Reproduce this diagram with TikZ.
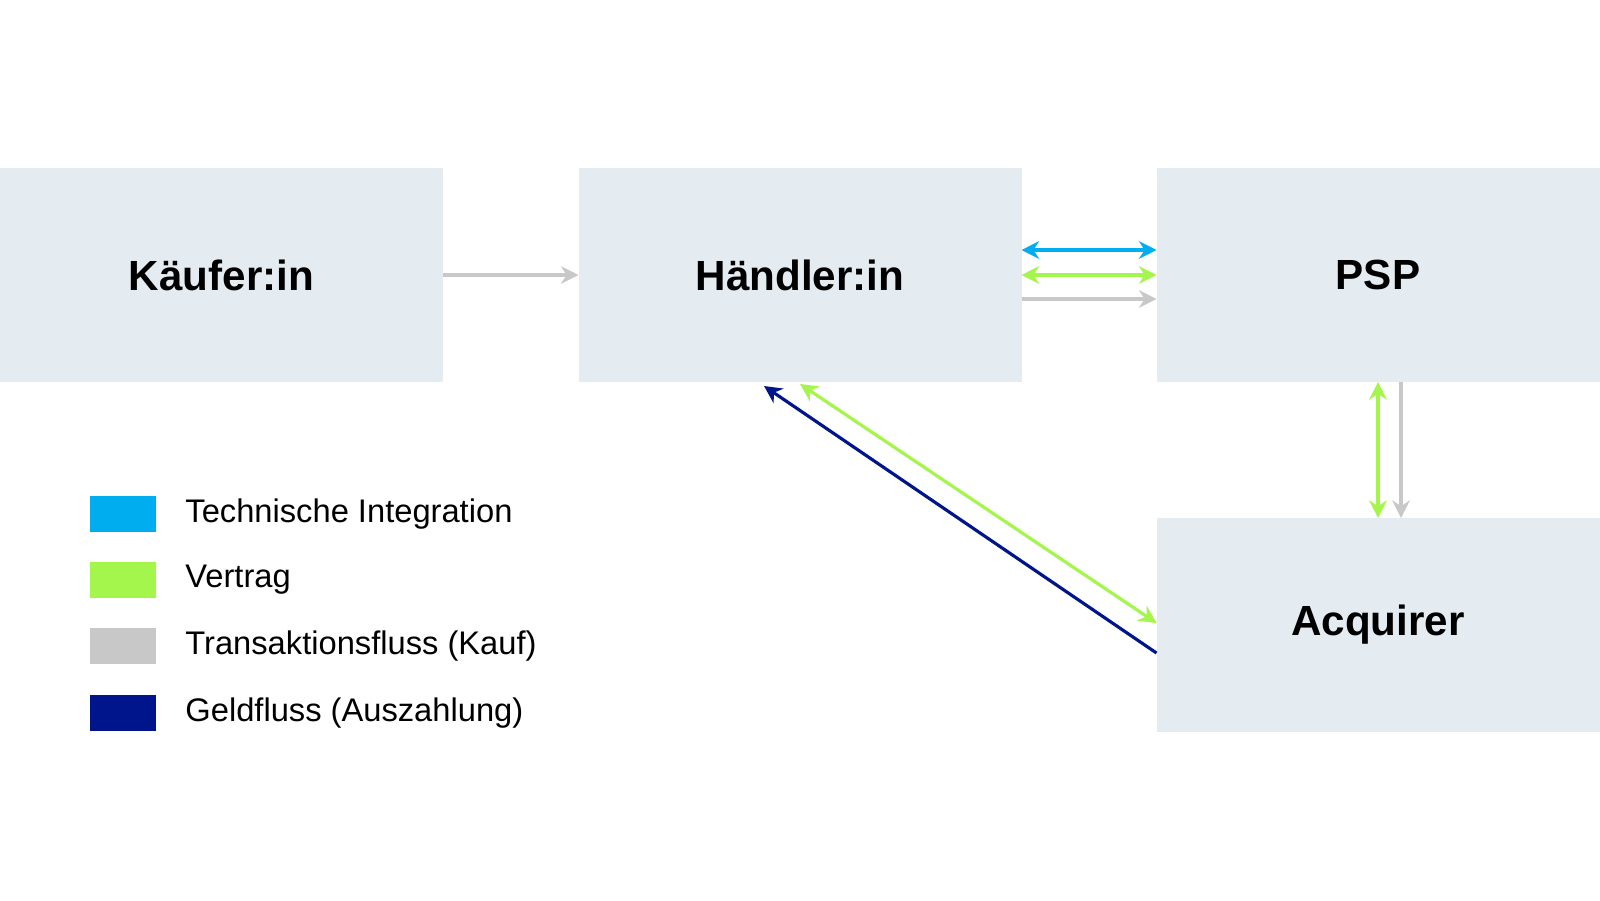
\documentclass[tikz,border=0pt]{standalone}
\usepackage{fontspec}
\setmainfont{Liberation Sans}
\usetikzlibrary{arrows.meta, positioning}

\definecolor{boxfill}{RGB}{228,236,241}
\definecolor{techblue}{RGB}{0,174,239}
\definecolor{vertraggreen}{RGB}{164,245,76}
\definecolor{kaufgray}{RGB}{200,200,200}
\definecolor{geldnavy}{RGB}{0,20,140}

\begin{document}
\begin{tikzpicture}[
        party/.style={fill=boxfill, minimum width=4.43cm, minimum height=2.14cm,
            inner sep=0pt, outer sep=0pt, font=\fontsize{12}{14}\selectfont\bfseries},
        swatch/.style={minimum width=0.66cm, minimum height=0.36cm, inner sep=0pt},
        legtxt/.style={inner sep=0pt, font=\fontsize{9.3}{11}\selectfont},
        flow/.style={line width=0.9pt, -{Stealth[length=5pt, width=5pt]}},
        both/.style={line width=0.9pt, {Stealth[length=5pt, width=5pt]}-{Stealth[length=5pt, width=5pt]}}]
        \useasboundingbox (0,0) rectangle (16,-9);
        % parties
        \node[party] (kaeufer) at (2.215,-2.75) {Käufer:in};
        \node[party] (haendler) at (8.00,-2.75) {Händler:in};
        \node[party] (psp) at (13.78,-2.75) {PSP};
        \node[party] (acquirer) at (13.78,-6.25) {Acquirer};
        % Kauf
        \draw[flow, kaufgray] (kaeufer.east) -- (haendler.west);
        % Händler:in <-> PSP
        \draw[both, techblue] ([yshift=0.25cm]haendler.east) -- ([yshift=0.25cm]psp.west);
        \draw[both, vertraggreen] (haendler.east) -- (psp.west);
        \draw[flow, kaufgray] ([yshift=-0.24cm]haendler.east) -- ([yshift=-0.24cm]psp.west);
        % PSP <-> Acquirer
        \draw[both, vertraggreen] (psp.south) -- (acquirer.north);
        \draw[flow, kaufgray] ([xshift=0.23cm]psp.south) -- ([xshift=0.23cm]acquirer.north);
        % Acquirer -> Händler:in
        \draw[both, vertraggreen] ([yshift=-0.02cm]haendler.south) -- ([yshift=0.02cm]acquirer.west);
        \draw[flow, geldnavy] ([yshift=-0.28cm]acquirer.west) -- ([xshift=-0.36cm, yshift=-0.04cm]haendler.south);
        % legend
        \node[swatch, fill=techblue] (legTech) at (1.23,-5.14) {};
        \node[legtxt, right=0.28cm of legTech] (txtTech) {Technische Integration};
        \node[swatch, fill=vertraggreen] (legVertrag) at (1.23,-5.80) {};
        \node[legtxt, right=0.28cm of legVertrag] (txtVertrag) {Vertrag};
        \node[swatch, fill=kaufgray] (legKauf) at (1.23,-6.46) {};
        \node[legtxt, right=0.28cm of legKauf] (txtKauf) {Transaktionsfluss (Kauf)};
        \node[swatch, fill=geldnavy] (legGeld) at (1.23,-7.13) {};
        \node[legtxt, right=0.28cm of legGeld] (txtGeld) {Geldfluss (Auszahlung)};
\end{tikzpicture}
\end{document}
